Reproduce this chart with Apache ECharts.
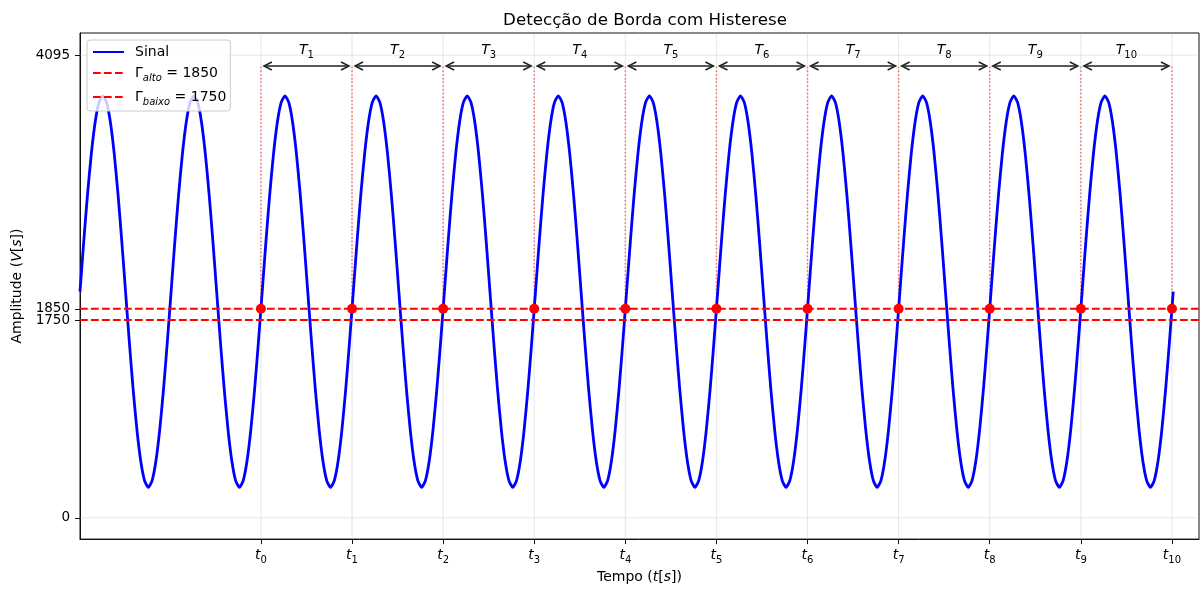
<!DOCTYPE html>
<html><head><meta charset="utf-8">
<script src="https://cdn.jsdelivr.net/npm/echarts@6/dist/echarts.min.js"></script>
<style>html,body{margin:0;padding:0;background:#fff}#c{width:1200px;height:589px}</style>
</head><body><div id="c"></div>
<script>
// ---- data (x unit = one signal period) ----
const sampleStep = 1 / 24;
const signalValues = [
  2003, 2452, 2870, 3228, 3504, 3677, 3736, 3677, 3504, 3228, 2870, 2452, 2003, 1554, 1137, 778, 502, 329, 270, 329, 502, 778, 1137, 1554,
  2003, 2452, 2870, 3228, 3504, 3677, 3736, 3677, 3504, 3228, 2870, 2452, 2003, 1554, 1137, 778, 502, 329, 270, 329, 502, 778, 1137, 1554,
  2003, 2452, 2870, 3228, 3504, 3677, 3736, 3677, 3504, 3228, 2870, 2452, 2003, 1554, 1137, 778, 502, 329, 270, 329, 502, 778, 1137, 1554,
  2003, 2452, 2870, 3228, 3504, 3677, 3736, 3677, 3504, 3228, 2870, 2452, 2003, 1554, 1137, 778, 502, 329, 270, 329, 502, 778, 1137, 1554,
  2003, 2452, 2870, 3228, 3504, 3677, 3736, 3677, 3504, 3228, 2870, 2452, 2003, 1554, 1137, 778, 502, 329, 270, 329, 502, 778, 1137, 1554,
  2003, 2452, 2870, 3228, 3504, 3677, 3736, 3677, 3504, 3228, 2870, 2452, 2003, 1554, 1137, 778, 502, 329, 270, 329, 502, 778, 1137, 1554,
  2003, 2452, 2870, 3228, 3504, 3677, 3736, 3677, 3504, 3228, 2870, 2452, 2003, 1554, 1137, 778, 502, 329, 270, 329, 502, 778, 1137, 1554,
  2003, 2452, 2870, 3228, 3504, 3677, 3736, 3677, 3504, 3228, 2870, 2452, 2003, 1554, 1137, 778, 502, 329, 270, 329, 502, 778, 1137, 1554,
  2003, 2452, 2870, 3228, 3504, 3677, 3736, 3677, 3504, 3228, 2870, 2452, 2003, 1554, 1137, 778, 502, 329, 270, 329, 502, 778, 1137, 1554,
  2003, 2452, 2870, 3228, 3504, 3677, 3736, 3677, 3504, 3228, 2870, 2452, 2003, 1554, 1137, 778, 502, 329, 270, 329, 502, 778, 1137, 1554,
  2003, 2452, 2870, 3228, 3504, 3677, 3736, 3677, 3504, 3228, 2870, 2452, 2003, 1554, 1137, 778, 502, 329, 270, 329, 502, 778, 1137, 1554,
  2003, 2452, 2870, 3228, 3504, 3677, 3736, 3677, 3504, 3228, 2870, 2452, 2003, 1554, 1137, 778, 502, 329, 270, 329, 502, 778, 1137, 1554,
  2003
];
const edgeTimes = [1.986, 2.986, 3.986, 4.986, 5.986, 6.986, 7.986, 8.986, 9.986, 10.986, 11.986];
const edgeTickNames = ['0', '1', '2', '3', '4', '5', '6', '7', '8', '9', '10'];
const periodNames = ['1', '2', '3', '4', '5', '6', '7', '8', '9', '10'];
const thresholdHigh = 1850;
const thresholdLow = 1750;
const yTickValues = [0, 1750, 1850, 4095];
const arrowLevel = 4000;
const periodLabelLevel = 4140;
const xRange = [0, 12.283];
const yRange = [-189, 4292];

// ---- derived series data ----
const signalData = signalValues.map((v, i) => [i * sampleStep, v]);
const highData = [[xRange[0], thresholdHigh], [xRange[1], thresholdHigh]];
const lowData = [[xRange[0], thresholdLow], [xRange[1], thresholdLow]];
const edgePoints = edgeTimes.map(t => [t, thresholdHigh]);
const spanData = periodNames.map((n, i) => [edgeTimes[i], arrowLevel, edgeTimes[i + 1], i]);
const markerLines = edgeTimes.map(t => [t, thresholdHigh, arrowLevel]);

const FONT = 'DejaVu Sans';
const richMath = {
  n: { fontFamily: FONT, fontSize: 14, color: '#000', lineHeight: 18 },
  i: { fontFamily: FONT, fontSize: 14, color: '#000', lineHeight: 18, fontStyle: 'italic' },
  s: { fontFamily: FONT, fontSize: 10, color: '#000', lineHeight: 8, padding: [10, 0, 0, 0], fontStyle: 'italic' },
  d: { fontFamily: FONT, fontSize: 10, color: '#000', lineHeight: 8, padding: [10, 0, 0, 0] },
  sp: { width: 6 }
};

const nameHigh = 'Γalto';
const nameLow = 'Γbaixo';

const chart = echarts.init(document.getElementById('c'), null, { renderer: 'canvas' });
chart.setOption({
  animation: false,
  backgroundColor: '#fff',
  title: {
    text: 'Detecção de Borda com Histerese',
    left: 640, top: 7, textAlign: 'center',
    textStyle: { fontFamily: FONT, fontSize: 16.7, fontWeight: 'normal', color: '#000' }
  },
  grid: { left: 80, right: 1, top: 33, bottom: 49, show: true, borderColor: '#111', borderWidth: 1, backgroundColor: 'transparent' },
  legend: {
    orient: 'vertical', left: 87, top: 40,
    data: ['Sinal', nameHigh, nameLow],
    itemWidth: 31, itemHeight: 12, itemGap: 4,
    padding: [5, 4, 4, 5],
    backgroundColor: 'rgba(255,255,255,0.8)', borderColor: '#cccccc', borderWidth: 1, borderRadius: 3,
    itemStyle: { opacity: 0, color: 'rgba(0,0,0,0)', borderWidth: 0 },
    formatter: function (name) {
      if (name === nameHigh) return '{sp|}{n|Γ}{s|alto}{n| = ' + thresholdHigh + '}';
      if (name === nameLow) return '{sp|}{n|Γ}{s|baixo}{n| = ' + thresholdLow + '}';
      return '{sp|}{n|' + name + '}';
    },
    textStyle: { fontFamily: FONT, fontSize: 14, color: '#000', rich: richMath }
  },
  xAxis: {
    type: 'value', min: xRange[0], max: xRange[1],
    name: '{n|Tempo (}{i|t}{n|[}{i|s}{n|])}',
    nameLocation: 'middle', nameGap: 24,
    nameTextStyle: { rich: richMath },
    axisLine: { show: true, onZero: false, lineStyle: { color: '#111', width: 1 } },
    axisTick: { show: true, length: 5, inside: false, customValues: edgeTimes, lineStyle: { color: '#111' } },
    axisLabel: {
      customValues: edgeTimes, margin: 7,
      formatter: function (v) {
        const k = edgeTimes.indexOf(v);
        return '{i|t}{d|' + edgeTickNames[k] + '}';
      },
      rich: richMath
    },
    splitLine: { show: false }
  },
  yAxis: {
    type: 'value', min: yRange[0], max: yRange[1],
    name: '{n|Amplitude (}{i|V}{n|[}{i|s}{n|])}',
    nameLocation: 'middle', nameGap: 54, nameRotate: 90,
    nameTextStyle: { rich: richMath },
    axisLine: { show: true, onZero: false, lineStyle: { color: '#111', width: 1 } },
    axisTick: { show: true, length: 5, customValues: yTickValues, lineStyle: { color: '#111' } },
    axisLabel: { customValues: yTickValues, margin: 10, fontFamily: FONT, fontSize: 13.5, color: '#000',
      formatter: function (v) { return String(v); } },
    splitLine: { show: false }
  },
  series: [
    {
      type: 'custom', name: 'gridV', silent: true, z: 1,
      data: edgeTimes.map(t => [t]),
      encode: { x: 0 },
      renderItem: function (params, api) {
        const x = api.value(0);
        const a = api.coord([x, yRange[0]]);
        const b = api.coord([x, yRange[1]]);
        return { type: 'line', shape: { x1: a[0], y1: a[1], x2: b[0], y2: b[1] },
          style: { stroke: 'rgba(176,176,176,0.3)', lineWidth: 1 } };
      }
    },
    {
      type: 'custom', name: 'gridH', silent: true, z: 1,
      data: yTickValues.map(v => [xRange[0], v]),
      encode: { x: 0, y: 1 },
      renderItem: function (params, api) {
        const v = api.value(1);
        const a = api.coord([xRange[0], v]);
        const b = api.coord([xRange[1], v]);
        return { type: 'line', shape: { x1: a[0], y1: a[1], x2: b[0], y2: b[1] },
          style: { stroke: 'rgba(176,176,176,0.3)', lineWidth: 1 } };
      }
    },
    {
      name: 'Sinal', type: 'line', data: signalData, smooth: 0.2, symbol: 'none', z: 3,
      lineStyle: { color: '#0000ff', width: 2.8, join: 'round' }, itemStyle: { color: '#0000ff' }
    },
    {
      name: nameHigh, type: 'line', data: highData, symbol: 'none', z: 4,
      lineStyle: { color: '#ff0000', width: 2, type: [7.7, 3.3] }, itemStyle: { color: '#ff0000' }
    },
    {
      name: nameLow, type: 'line', data: lowData, symbol: 'none', z: 4,
      lineStyle: { color: '#ff0000', width: 2, type: [7.7, 3.3] }, itemStyle: { color: '#ff0000' }
    },
    {
      type: 'custom', name: 'edgeLines', silent: true, z: 2,
      data: markerLines,
      encode: { x: 0, y: [1, 2] },
      renderItem: function (params, api) {
        const a = api.coord([api.value(0), api.value(1)]);
        const b = api.coord([api.value(0), api.value(2)]);
        return { type: 'line', shape: { x1: a[0], y1: a[1], x2: b[0], y2: b[1] },
          style: { stroke: 'rgba(255,0,0,0.55)', lineWidth: 1.5, lineDash: [1.5, 2.2] } };
      }
    },
    {
      type: 'custom', name: 'spans', silent: true, z: 5,
      data: spanData,
      encode: { x: [0, 2], y: 1 },
      renderItem: function (params, api) {
        const x0 = api.value(0), x1 = api.value(2), k = api.value(3);
        const a = api.coord([x0, arrowLevel]);
        const b = api.coord([x1, arrowLevel]);
        const L = api.coord([(x0 + x1) / 2, periodLabelLevel]);
        const sh = 3, hl = 8, hw = 4, y = a[1];
        const ax = a[0] + sh, bx = b[0] - sh;
        const st = { stroke: '#222', lineWidth: 1.5, fill: null };
        return { type: 'group', children: [
          { type: 'line', shape: { x1: ax, y1: y, x2: bx, y2: y }, style: st },
          { type: 'polyline', shape: { points: [[ax + hl, y - hw], [ax, y], [ax + hl, y + hw]] }, style: st },
          { type: 'polyline', shape: { points: [[bx - hl, y - hw], [bx, y], [bx - hl, y + hw]] }, style: st },
          { type: 'text', x: L[0], y: L[1], style: {
              text: '{i|T}{d|' + periodNames[k] + '}', rich: richMath,
              align: 'center', verticalAlign: 'middle' } }
        ] };
      }
    },
    {
      name: 'edges', type: 'scatter', data: edgePoints, symbol: 'circle', symbolSize: 10, z: 6,
      itemStyle: { color: '#ff0000', opacity: 1 }, silent: true
    }
  ]
});
</script>
</body></html>
